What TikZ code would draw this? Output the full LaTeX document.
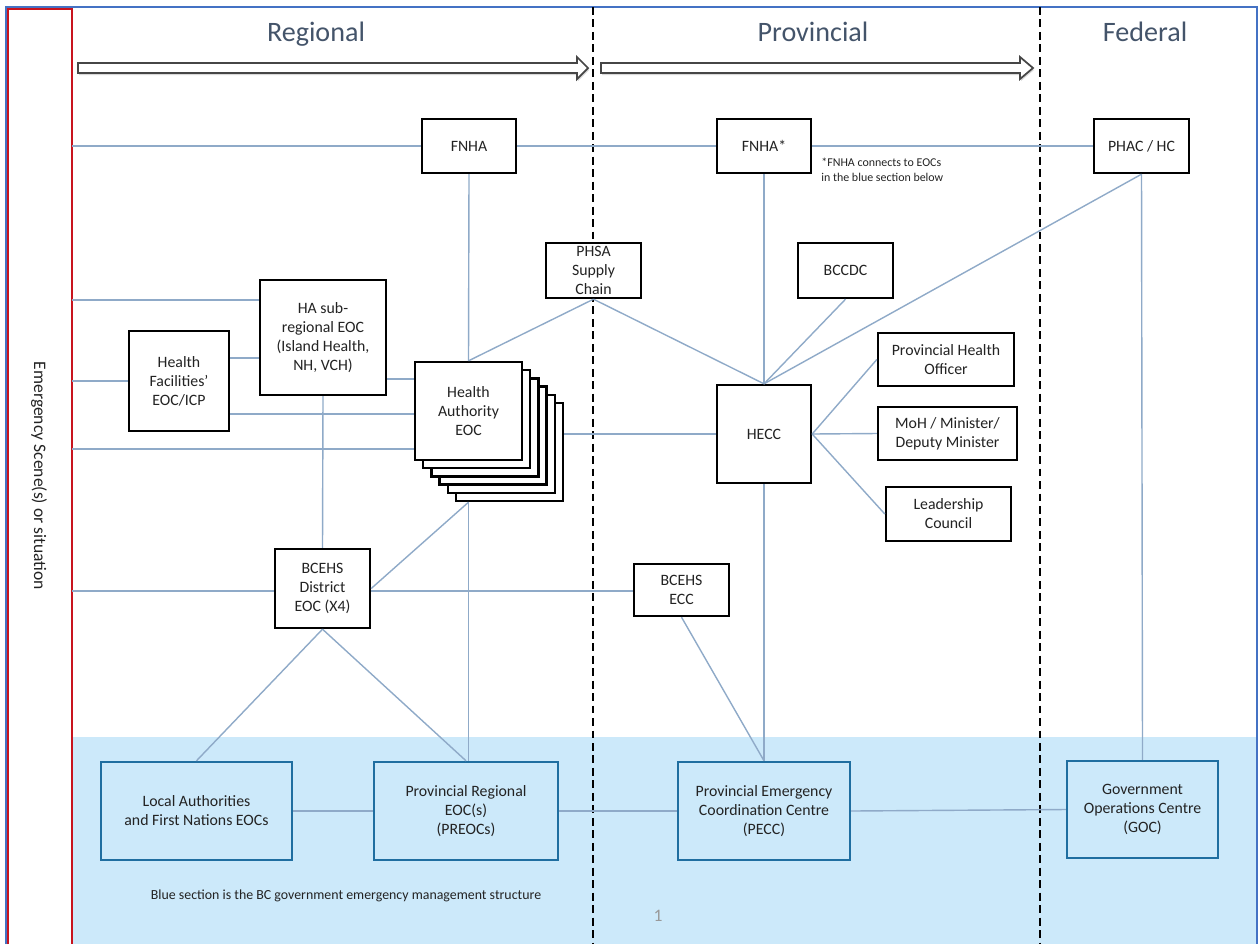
\documentclass[tikz,border=0pt]{standalone}
\usepackage{fontspec}
\setmainfont{Carlito}

\definecolor{linkblue}{RGB}{143,170,200}
\definecolor{govblue}{RGB}{31,110,160}
\definecolor{govfill}{RGB}{204,233,250}
\definecolor{frameblue}{RGB}{68,114,196}
\definecolor{scenered}{RGB}{200,20,30}
\definecolor{headgray}{RGB}{68,84,106}
\definecolor{txtgray}{RGB}{35,35,35}
\definecolor{arrowgray}{RGB}{70,70,70}

\begin{document}
\begin{tikzpicture}[x=0.02cm,y=-0.02cm,
    dims/.style 2 args={minimum width=#1*0.02cm,minimum height=#2*0.02cm},
    box/.style={draw=black,line width=1.35pt,fill=white,align=center,inner sep=1pt,
                text=txtgray,font=\fontsize{9}{10.8}\selectfont},
    govbox/.style={draw=govblue,line width=1.4pt,fill=govfill,align=center,inner sep=1pt,
                text=txtgray,font=\fontsize{9}{10.8}\selectfont},
    link/.style={draw=linkblue,line width=0.8pt},
    tier/.style={draw=black,line width=1.6pt,dash pattern=on 4.5pt off 2.6pt},
    head/.style={anchor=base,text=headgray,font=\fontsize{16}{19}\selectfont}]
    \useasboundingbox (0,0) rectangle (1260,944);

    % blue section and frames
    \fill[govfill] (72,737) rectangle (1257,944);
    \draw[frameblue,line width=1.3pt] (6,944) -- (6,7) -- (1257,7) -- (1257,944);
    \draw[scenered,line width=1.2pt] (8,944) -- (8,9) -- (72,9) -- (72,944);
    \node[rotate=-90,text=txtgray,font=\fontsize{10}{12}\selectfont] (scene) at (39,476) {Emergency Scene(s) or situation};

    % tiers
    \draw[tier] (593,7) -- (593,944);
    \draw[tier] (1040,7) -- (1040,944);
    \node[head] (regional) at (316,41) {Regional};
    \node[head] (provincial) at (813,41) {Provincial};
    \node[head] (federal) at (1145,41) {Federal};
    \foreach \xa/\xb/\xc in {78/577/588,601/1020/1033}
    {
        \fill[black!15] (\xa+1,65) -- (\xb+1,65) -- (\xb+1,59) -- (\xc+1,70) -- (\xb+1,81) -- (\xb+1,75) -- (\xa+1,75) -- cycle;
        \draw[arrowgray,fill=white,line width=1pt] (\xa,63) -- (\xb,63) -- (\xb,57) -- (\xc,68) -- (\xb,79) -- (\xb,73) -- (\xa,73) -- cycle;
    }

    % boxes
    \node[box,dims={94}{54}] (fnhaR) at (469,146) {FNHA};
    \node[box,dims={94}{54}] (fnhaP) at (764,146) {FNHA*};
    \node[box,dims={95}{54}] (phac) at (1141.5,146) {PHAC / HC};
    \node[box,dims={95}{55},inner ysep=0pt] (phsa) at (593.5,270.5) {PHSA\\Supply\\Chain};
    \node[box,dims={95}{55}] (bccdc) at (845.5,270.5) {BCCDC};
    \node[box,dims={126}{115}] (hasub) at (323,337.5) {HA sub-\\regional EOC\\(Island Health,\\NH, VCH)};
    \node[box,dims={100}{100}] (hfac) at (179,381) {Health\\Facilities’\\EOC/ICP};
    \foreach \k in {5,4,3,2,1}
        \node[box,dims={107}{98}] (haeoc\k) at (468.5+8.2*\k,411+8.2*\k) {};
    \node[box,dims={107}{98}] (haeoc) at (468.5,411) {Health\\Authority\\EOC};
    \node[box,dims={94}{98}] (hecc) at (764,434) {HECC};
    \node[box,dims={136}{53}] (pho) at (946,359.5) {Provincial Health\\Officer};
    \node[box,dims={139}{53}] (moh) at (947.5,433.5) {MoH / Minister/\\Deputy Minister};
    \node[box,dims={125}{54}] (lead) at (948.5,514) {Leadership\\Council};
    \node[box,dims={95}{79}] (bcehsD) at (322.5,588.5) {BCEHS\\District\\EOC (X4)};
    \node[box,dims={95}{52}] (bcehsE) at (681.5,590) {BCEHS\\ECC};
    \node[govbox,dims={191}{98}] (local) at (196.5,811) {Local Authorities\\and First Nations EOCs};
    \node[govbox,dims={184}{98}] (preoc) at (466,811) {Provincial Regional\\EOC(s)\\(PREOCs)};
    \node[govbox,dims={172}{98}] (pecc) at (764,811) {Provincial Emergency\\Coordination Centre\\(PECC)};
    \node[govbox,dims={151}{97}] (goc) at (1142.5,809.5) {Government\\Operations Centre\\(GOC)};

    % notes
    \node[anchor=west,align=left,inner sep=0pt,text=txtgray,font=\fontsize{6.8}{8.5}\selectfont] (fnhanote) at (821,170) {*FNHA connects to EOCs\\in the blue section below};
    \node[text=txtgray,font=\fontsize{7.9}{9}\selectfont] (blurb) at (346,896) {Blue section is the BC government emergency management structure};
    \node[text=black!40,font=\fontsize{10}{12}\selectfont] (pagenum) at (658,916) {1};

    % connectors
    \coordinate (edge1) at (72,146);
    \coordinate (edge2) at (72,300);
    \coordinate (edge3) at (72,381);
    \coordinate (edge4) at (72,449);
    \coordinate (edge5) at (72,591);
    \coordinate (r358) at (0,358);
    \coordinate (r379) at (0,379);
    \coordinate (r414) at (0,414);
    \coordinate (r591) at (0,591);
    \coordinate (stackbot) at (haeoc5.south -| haeoc.south);

    \draw[link] (edge1) -- (fnhaR.west);
    \draw[link] (fnhaR.east) -- (fnhaP.west);
    \draw[link] (fnhaP.east) -- (phac.west);
    \draw[link] (edge2) -- (edge2 -| hasub.west);
    \draw[link] (edge3) -- (hfac.west);
    \draw[link] (edge4) -- (edge4 -| haeoc.west);
    \draw[link] (edge5) -- (edge5 -| bcehsD.west);
    \draw[link] (hfac.east |- r358) -- (r358 -| hasub.west);
    \draw[link] (hfac.east |- r414) -- (r414 -| haeoc.west);
    \draw[link] (hasub.east |- r379) -- (r379 -| haeoc.west);
    \draw[link] (hasub.south) -- (bcehsD.north);
    \draw[link] (bcehsD.east |- r591) -- (r591 -| bcehsE.west);
    \draw[link] (bcehsD.east) -- (stackbot);
    \draw[link] (stackbot) -- (stackbot |- preoc.north);
    \draw[link] (bcehsD.south) -- (local.north);
    \draw[link] (bcehsD.south) -- (preoc.north);
    \draw[link] (fnhaR.south) -- (haeoc.north);
    \draw[link] (phsa.south) -- (haeoc.north);
    \draw[link] (phsa.south) -- (hecc.north);
    \draw[link] (fnhaP.south) -- (hecc.north);
    \draw[link] (bccdc.south) -- (hecc.north);
    \draw[link] (phac.south) -- (hecc.north);
    \draw[link] (phac.south) -- (goc.north);
    \draw[link] (hecc.west -| haeoc5.east) -- (hecc.west);
    \draw[link] (hecc.east) -- (pho.west);
    \draw[link] (hecc.east) -- (moh.west);
    \draw[link] (hecc.east) -- (lead.west);
    \draw[link] (hecc.south) -- (pecc.north);
    \draw[link] (bcehsE.south) -- (pecc.north);
    \draw[link] (local.east) -- (preoc.west);
    \draw[link] (preoc.east) -- (pecc.west);
    \draw[link] (pecc.east) -- (goc.west);
\end{tikzpicture}
\end{document}
